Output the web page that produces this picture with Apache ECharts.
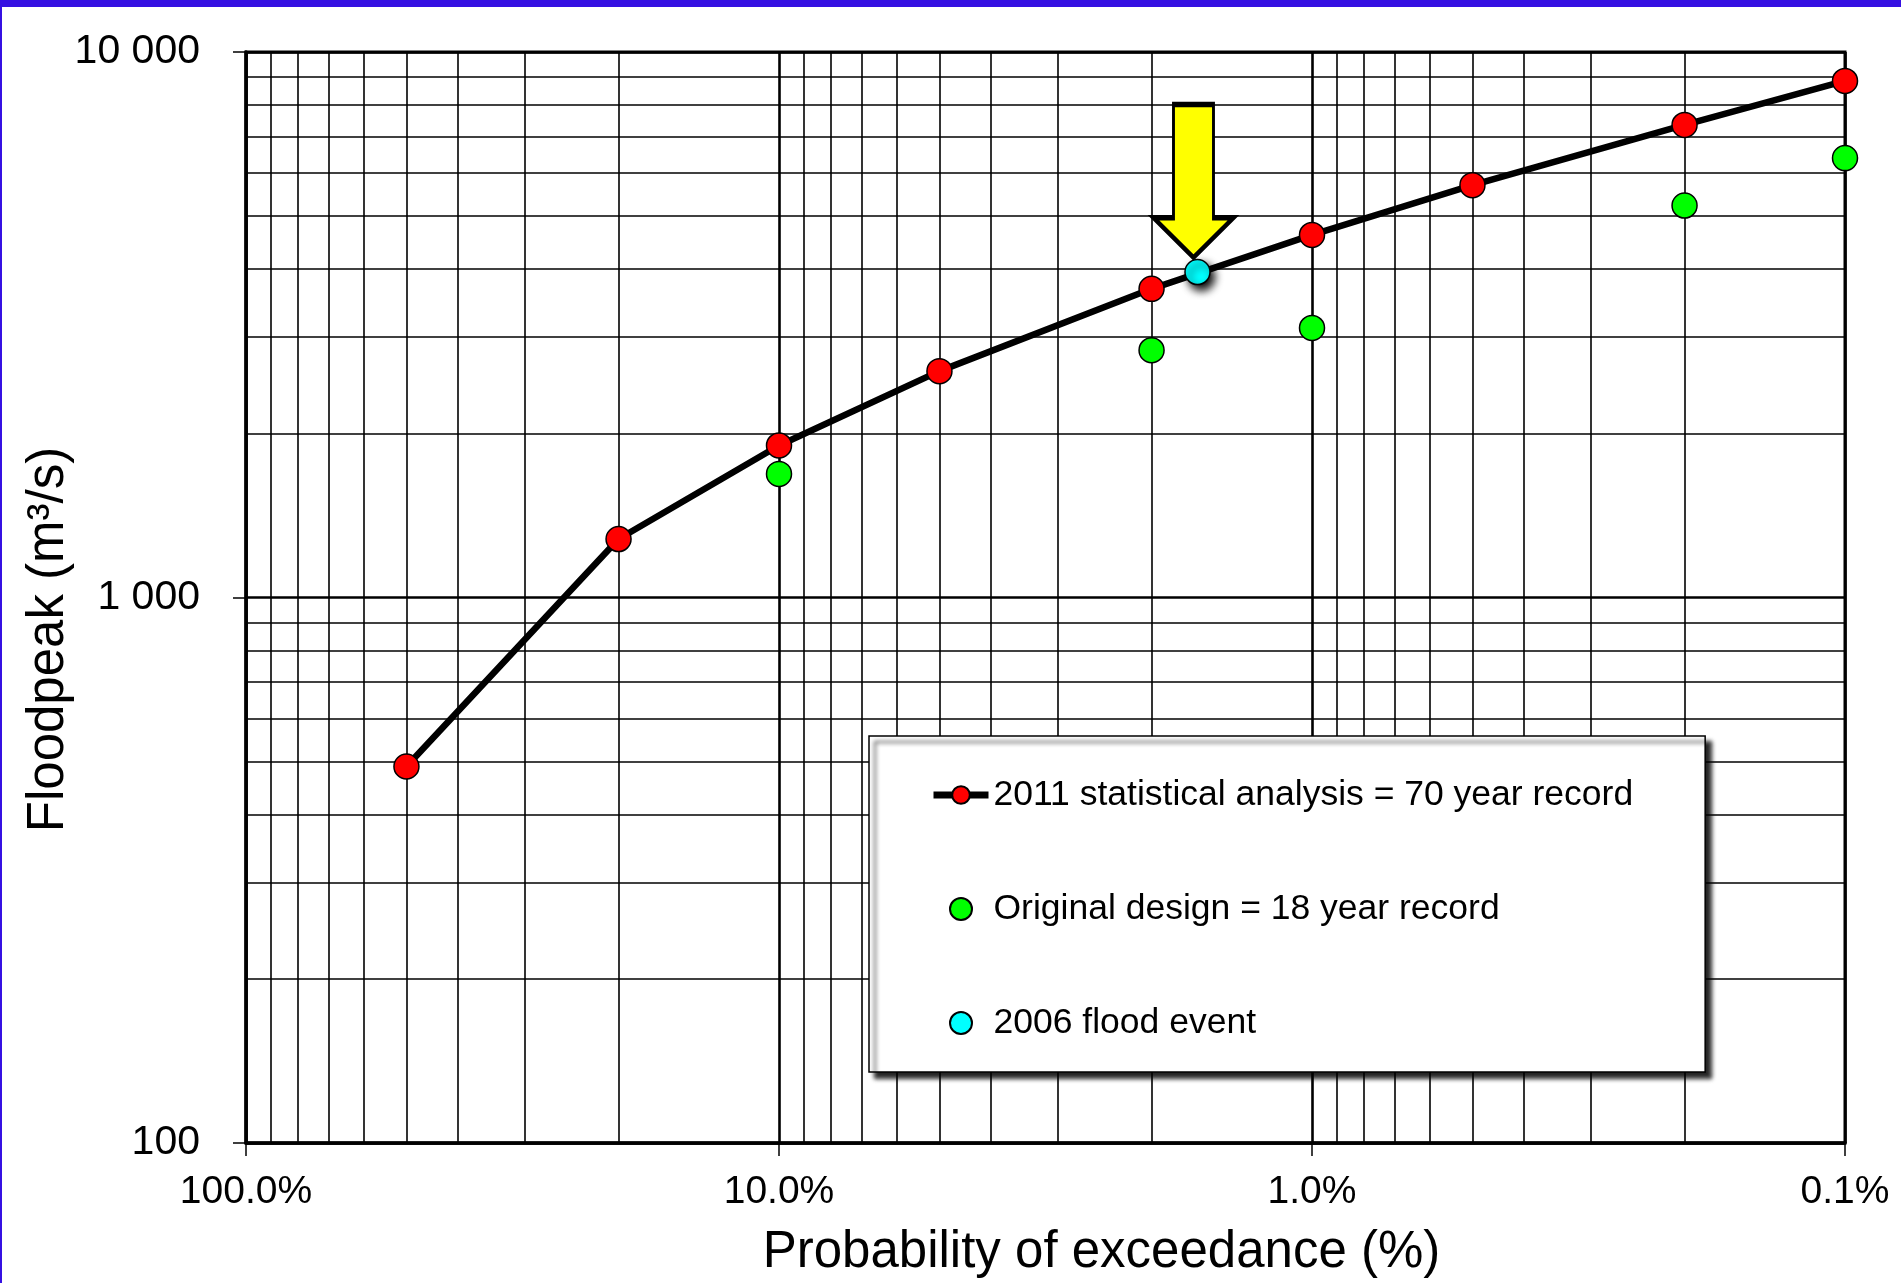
<!DOCTYPE html>
<html>
<head>
<meta charset="utf-8">
<script src="https://cdn.jsdelivr.net/npm/echarts@6/dist/echarts.min.js"></script>
<style>
  html, body { margin: 0; padding: 0; background: #fff; }
  #chart { position: absolute; left: 0; top: 0; width: 1901px; height: 1283px; }
  #bandTop { position: absolute; left: 0; top: 0; width: 1901px; height: 7px; background: #3510e2; }
  #bandLeft { position: absolute; left: 0; top: 0; width: 2px; height: 1283px; background: #3510e2; }
</style>
</head>
<body>
<div id="chart"></div>
<div id="bandTop"></div>
<div id="bandLeft"></div>
<script>
// ---- data ----
const probs2011 = [50, 20, 10, 5, 2, 1, 0.5, 0.2, 0.1];            // % exceedance
const peaks2011 = [490, 1280, 1900, 2600, 3680, 4620, 5700, 7350, 8850]; // m3/s
const probsDesign = [10, 2, 1, 0.2, 0.1];
const peaksDesign = [1685, 2840, 3120, 5230, 6390];
const probsEvent = [1.64];
const peaksEvent = [3950];
const xTickLabels = ['100.0%', '10.0%', '1.0%', '0.1%'];
const yTickLabels = ['100', '1 000', '10 000'];
const seriesNames = ['2011 statistical analysis = 70 year record', 'Original design = 18 year record', '2006 flood event'];

const FONT = 'Arial, "Liberation Sans", sans-serif';

// minor log grid values (2..9 within each decade)
const xMinor = [], yMinor = [];
[0.1, 1, 10].forEach(d => { for (let k = 2; k <= 9; k++) xMinor.push(+(k * d).toPrecision(3)); });
[100, 1000].forEach(d => { for (let k = 2; k <= 9; k++) yMinor.push(k * d); });

const zip = (a, b) => a.map((v, i) => [v, b[i]]);

const chart = echarts.init(document.getElementById('chart'), null, { renderer: 'canvas' });

const option = {
  animation: false,
  backgroundColor: '#fff',
  grid: {
    left: 246, top: 52, right: 56, bottom: 140,
    show: true, borderColor: '#000', borderWidth: 3, backgroundColor: 'transparent'
  },
  xAxis: {
    type: 'log', logBase: 10, min: 0.1, max: 100, inverse: true,
    axisLine: { show: true, onZero: false, lineStyle: { color: '#000', width: 3.5 } },
    axisTick: { show: true, inside: false, length: 13, lineStyle: { color: '#000', width: 1.5 } },
    splitLine: { show: true, lineStyle: { color: '#000', width: 2.6 } },
    axisLabel: {
      color: '#000', fontFamily: FONT, fontSize: 39, margin: 30,
      formatter: function (v) {
        const idx = Math.round(2 - Math.log10(v));
        return xTickLabels[idx];
      }
    },
    name: 'Probability of exceedance (%)',
    nameLocation: 'middle', nameGap: 84, nameMoveOverlap: false,
    nameTextStyle: { color: '#000', fontFamily: FONT, fontSize: 51, padding: [0, 0, 0, 112] }
  },
  yAxis: {
    type: 'log', logBase: 10, min: 100, max: 10000,
    axisLine: { show: true, onZero: false, lineStyle: { color: '#000', width: 3.5 } },
    axisTick: { show: true, inside: false, length: 13, lineStyle: { color: '#000', width: 1.5 } },
    splitLine: { show: true, lineStyle: { color: '#000', width: 2.6 } },
    axisLabel: {
      color: '#000', fontFamily: FONT, fontSize: 41, margin: 46,
      formatter: function (v) {
        const idx = Math.round(Math.log10(v) - 2);
        return yTickLabels[idx];
      }
    },
    name: 'Floodpeak (m\u00B3/s)',
    nameLocation: 'middle', nameGap: 172, nameRotate: 90, nameMoveOverlap: false,
    nameTextStyle: { color: '#000', fontFamily: FONT, fontSize: 51, padding: [0, 84, 0, 0] }
  },
  legend: {
    show: true, orient: 'vertical',
    left: 869, top: 736,
    padding: [39, 72, 29, 61],
    itemGap: 74, itemWidth: 55, itemHeight: 22,
    backgroundColor: '#fff', borderColor: '#000', borderWidth: 1.5, borderRadius: 0,
    shadowColor: 'rgba(0,0,0,0.85)', shadowBlur: 4, shadowOffsetX: 6, shadowOffsetY: 6,
    textStyle: { color: '#000', fontFamily: FONT, fontSize: 35.5, lineHeight: 40 },
    selectedMode: false,
    data: [
      { name: seriesNames[0], lineStyle: { width: 7 } },
      { name: seriesNames[1], icon: 'circle' },
      { name: seriesNames[2], icon: 'circle' }
    ]
  },
  series: [
    {
      name: 'minorGrid', type: 'line', data: [], silent: true,
      markLine: {
        silent: true, symbol: ['none', 'none'], z: 1, animation: false,
        label: { show: false },
        lineStyle: { color: '#000', width: 1.6, type: 'solid' },
        emphasis: { disabled: true },
        data: xMinor.map(v => ({ xAxis: v })).concat(yMinor.map(v => ({ yAxis: v })))
      }
    },
    {
      name: seriesNames[0], type: 'line', z: 3,
      data: zip(probs2011, peaks2011),
      symbol: 'circle', symbolSize: 25,
      lineStyle: { color: '#000', width: 6.5 },
      itemStyle: { color: '#ff0000', borderColor: '#000', borderWidth: 1.5 },
      emphasis: { disabled: true }
    },
    {
      name: seriesNames[1], type: 'scatter', z: 4,
      data: zip(probsDesign, peaksDesign),
      symbol: 'circle', symbolSize: 25,
      itemStyle: { color: '#00ff00', borderColor: '#000', borderWidth: 1.5, opacity: 1 },
      emphasis: { disabled: true }
    },
    {
      name: seriesNames[2], type: 'scatter', z: 5,
      data: zip(probsEvent, peaksEvent),
      symbol: 'circle', symbolSize: 25,
      itemStyle: {
        color: '#00ffff', borderColor: '#000', borderWidth: 1.5, opacity: 1,
        shadowColor: 'rgba(0,0,0,1)', shadowBlur: 8, shadowOffsetX: 4, shadowOffsetY: 5
      },
      emphasis: { disabled: true },
      markPoint: {
        silent: true, z: 6, animation: false,
        symbol: 'path://M21,0 L63,0 L63,114 L84,114 L42,154 L0,114 L21,114 Z',
        symbolSize: [80, 153],
        symbolOffset: [-4, -91],
        label: { show: false },
        itemStyle: { color: '#ffff00', borderColor: '#000', borderWidth: 4 },
        data: [{ coord: [probsEvent[0], peaksEvent[0]] }]
      }
    }
  ]
};

chart.setOption(option);
</script>
</body>
</html>
